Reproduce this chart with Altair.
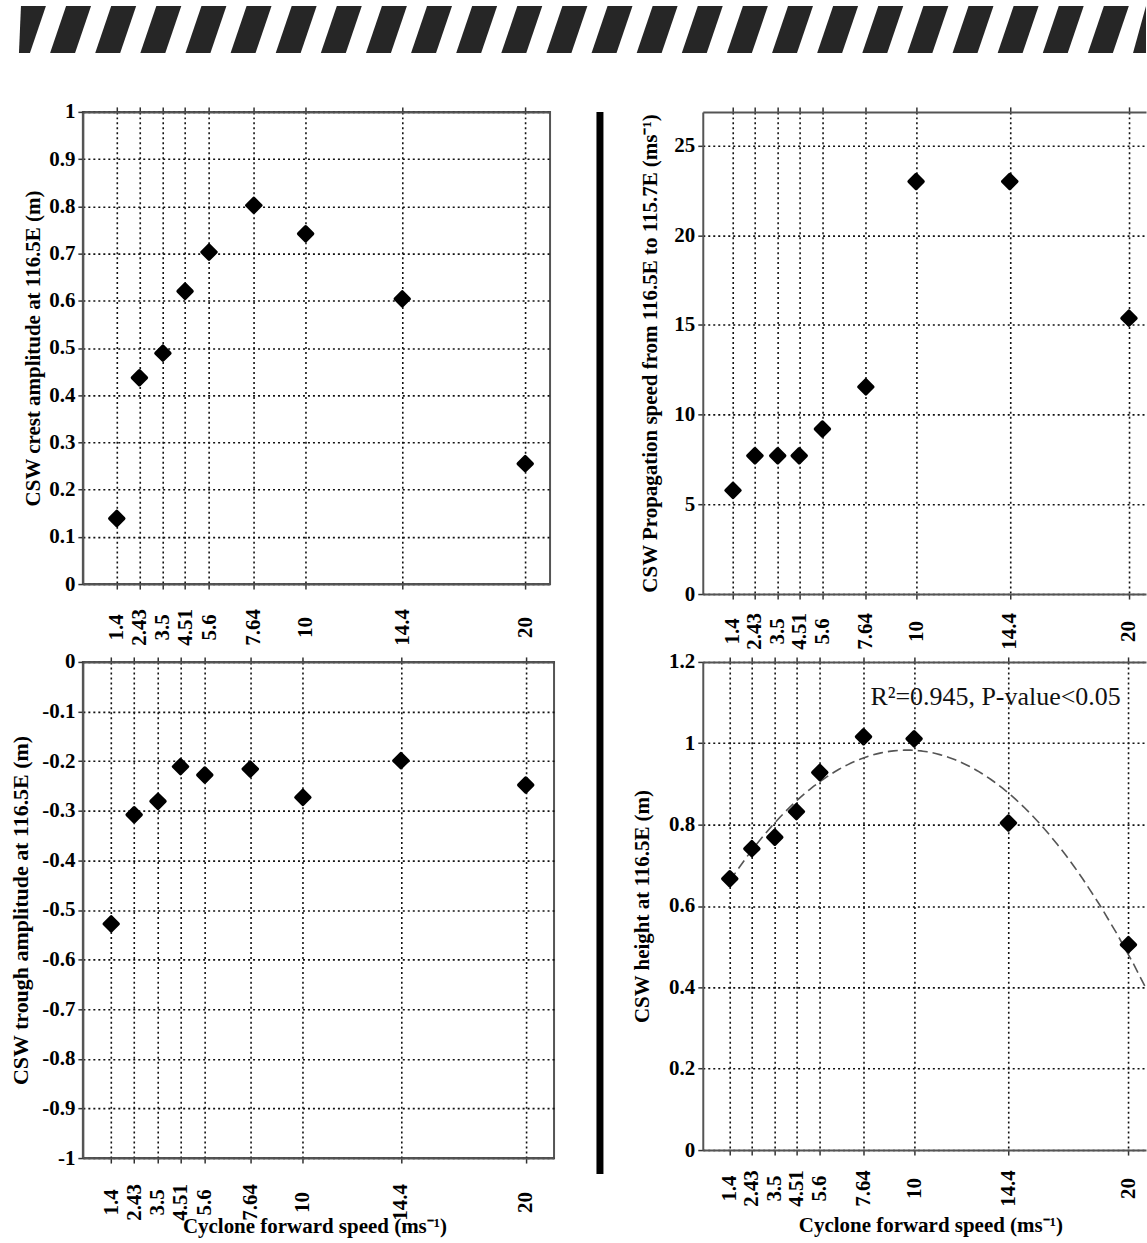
import altair as alt
import pandas as pd

# ---------------- data ----------------
speeds = [1.4, 2.43, 3.5, 4.51, 5.6, 7.64, 10, 14.4, 20]
crest = [0.139, 0.437, 0.489, 0.620, 0.703, 0.802, 0.742, 0.604, 0.255]
trough = [-0.528, -0.308, -0.281, -0.211, -0.228, -0.216, -0.273, -0.199, -0.248]
propagation = [5.78, 7.71, 7.71, 7.71, 9.20, 11.55, 23.0, 23.0, 15.38]
csw_height = [0.667, 0.741, 0.769, 0.832, 0.928, 1.016, 1.011, 0.804, 0.505]

crest_ticks = [0, 0.1, 0.2, 0.3, 0.4, 0.5, 0.6, 0.7, 0.8, 0.9, 1]
trough_ticks = [-1, -0.9, -0.8, -0.7, -0.6, -0.5, -0.4, -0.3, -0.2, -0.1, 0]
prop_ticks = [0, 5, 10, 15, 20, 25]
height_ticks = [0, 0.2, 0.4, 0.6, 0.8, 1, 1.2]

x_title = "Cyclone forward speed (ms⁻¹)"
annotation_text = ["R²=0.945, P-value<0.05"]
annotation_x = [13.8]
annotation_y = [1.094]

FONT = "Liberation Serif"

# ---------------- page layout (px) ----------------
PAGE_W, PAGE_H = 1147, 1243
COL1_X, COL2_X = 82, 703
ROW1_Y, ROW2_Y = 110, 661
TL_W, TL_H = 468, 473
BL_W, BL_H = 472, 497
TR_W, TR_H = 444, 483
BR_W, BR_H = 444, 489
COL_GAP = COL2_X - COL1_X - max(TL_W, BL_W)
ROW_GAP = ROW2_Y - ROW1_Y - max(TL_H, TR_H)

# decoration: striped band, separator bar
band_rect = pd.DataFrame({"x0": [0], "x1": [PAGE_W], "y0": [0], "y1": [56]})
separator = pd.DataFrame({"x": [600], "y0": [110], "y1": [1174]})
stripe_rows = []
STRIPE_PERIOD, STRIPE_W, STRIPE_SLANT = 45.2, 25, 16
BAND_TOP, BAND_BOT = 4, 51
for i in range(27):
    bl = 4 + i * STRIPE_PERIOD
    stripe_rows.append({"i": i, "y": BAND_TOP, "a": bl + STRIPE_SLANT, "b": bl + STRIPE_SLANT + STRIPE_W})
    stripe_rows.append({"i": i, "y": BAND_BOT, "a": bl, "b": bl + STRIPE_W})
stripes = pd.DataFrame(stripe_rows)


def panel(values, ytitle, yticks, xdom, ydom, w, h, title_x, title_size,
          label_pad, xtitle_pos=None, fit=False):
    df = pd.DataFrame({"speed": speeds, "value": values})
    base = alt.Chart(df)
    xs = alt.Scale(domain=xdom, nice=False, zero=False)
    ys = alt.Scale(domain=ydom, nice=False, zero=False)
    xkw = dict(orient="bottom", values=speeds, labelExpr="toString(datum.value)",
               labelAngle=270, labelAlign="center", labelBaseline="middle",
               labelPadding=label_pad, labelFontSize=21, grid=True)
    if xtitle_pos is not None:
        xkw.update(title=x_title, titleX=xtitle_pos[0], titleY=xtitle_pos[1],
                   titleAlign="center", titleBaseline="alphabetic", titleFontSize=21,
                   titleAngle=0)
    else:
        xkw["title"] = None
    yaxis = alt.Axis(values=yticks, labelExpr="toString(datum.value)", labelFontSize=21,
                     labelPadding=3, grid=True, title=ytitle, titleX=title_x, titleY=h / 2,
                     titleAngle=270, titleAlign="center", titleBaseline="middle",
                     titleFontSize=title_size)
    pts = base.mark_point(shape="diamond", filled=True, size=195, fill="black",
                          stroke="black", strokeWidth=3.5, strokeJoin="round",
                          opacity=1).encode(
        x=alt.X("speed:Q", scale=xs, axis=alt.Axis(**xkw)),
        y=alt.Y("value:Q", scale=ys, axis=yaxis),
    )
    top = base.mark_point(opacity=0).encode(
        x=alt.X("speed:Q", scale=xs, axis=alt.Axis(orient="top", values=speeds, labels=False,
                                                   grid=False, title=None)),
    )
    layers = [pts, top]
    if fit:
        curve = base.transform_regression(
            "speed", "value", method="poly", order=2, extent=[1.4, 21.0]
        ).mark_line(color="#555", strokeDash=[10, 5], strokeWidth=1.6, clip=True).encode(
            x=alt.X("speed:Q", scale=xs, axis=None),
            y=alt.Y("value:Q", scale=ys, axis=yaxis),
        )
        ann = alt.Chart(pd.DataFrame({"x": annotation_x, "y": annotation_y,
                                      "t": annotation_text})).mark_text(
            font=FONT, fontSize=26, align="center", baseline="alphabetic", color="#111"
        ).encode(
            x=alt.X("x:Q", scale=xs, axis=None),
            y=alt.Y("y:Q", scale=ys, axis=yaxis),
            text="t:N",
        )
        layers = [curve, pts, ann, top]
    return alt.layer(*layers).resolve_axis(x="independent")


# page-coordinate scales relative to the top-left panel origin
px = alt.Scale(domain=[0, PAGE_W], range=[-COL1_X, PAGE_W - COL1_X], clamp=True, nice=False, zero=False)
py = alt.Scale(domain=[0, PAGE_H], range=[-ROW1_Y, PAGE_H - ROW1_Y], nice=False, zero=False)
sx = alt.Scale(domain=[18, PAGE_W], range=[18 - COL1_X, PAGE_W - COL1_X], clamp=True, nice=False, zero=False)

page_rect = alt.Chart(band_rect).mark_rect(color="white").encode(
    x=alt.X("x0:Q", scale=px, axis=None), x2="x1:Q",
    y=alt.Y("y0:Q", scale=py, axis=None), y2="y1:Q",
)
page_sep = alt.Chart(separator).mark_rule(color="black", strokeWidth=7, strokeCap="butt").encode(
    x=alt.X("x:Q", scale=px, axis=None),
    y=alt.Y("y0:Q", scale=py, axis=None), y2="y1:Q",
)
page_layer = alt.layer(page_rect, page_sep)
stripe_layer = alt.Chart(stripes).mark_area(orient="horizontal", color="#262626").encode(
    y=alt.Y("y:Q", scale=py, axis=None),
    x=alt.X("a:Q", scale=sx, axis=None), x2="b:Q",
    detail="i:N",
)

frame = alt.ViewBackground(stroke="#555", strokeWidth=2)

tl_inner = panel(crest, "CSW crest amplitude at 116.5E (m)", crest_ticks,
                 [-0.145, 21.13], [0, 1], TL_W, TL_H, -49, 21, 38)
tl = alt.layer(tl_inner, page_layer, stripe_layer).resolve_scale(
    x="independent", y="independent").properties(width=TL_W, height=TL_H, view=frame)

tr = panel(propagation, "CSW Propagation speed from 116.5E to 115.7E (ms⁻¹)", prop_ticks,
           [-0.02, 20.80], [0, 26.88], TR_W, TR_H, -52, 21, 32).properties(
    width=TR_W, height=TR_H)

bl = panel(trough, "CSW trough amplitude at 116.5E (m)", trough_ticks,
           [0.128, 21.27], [-1, 0], BL_W, BL_H, -62, 22, 39,
           xtitle_pos=(232, 75)).properties(width=BL_W, height=BL_H, view=frame)

br = panel(csw_height, "CSW height at 116.5E (m)", height_ticks,
           [0.14, 20.82], [0, 1.2], BR_W, BR_H, -60, 21, 33,
           xtitle_pos=(228, 82), fit=True).properties(width=BR_W, height=BR_H)

chart = alt.concat(
    tl, tr, bl, br, columns=2, bounds="flush",
    spacing={"row": ROW_GAP, "column": COL_GAP},
).properties(padding=0, background="white").configure_view(
    stroke="transparent"
).configure_axis(
    labelFont=FONT, labelFontWeight="bold", labelColor="black",
    titleFont=FONT, titleFontWeight="bold", titleColor="black",
    domainColor="#555", domainWidth=2,
    tickColor="#333", tickWidth=1.5, tickSize=5,
    gridColor="#111", gridDash=[2, 3], gridWidth=1.6, gridOpacity=1,
)

chart.save("out.html", embed_options={"renderer": "svg", "actions": False})
